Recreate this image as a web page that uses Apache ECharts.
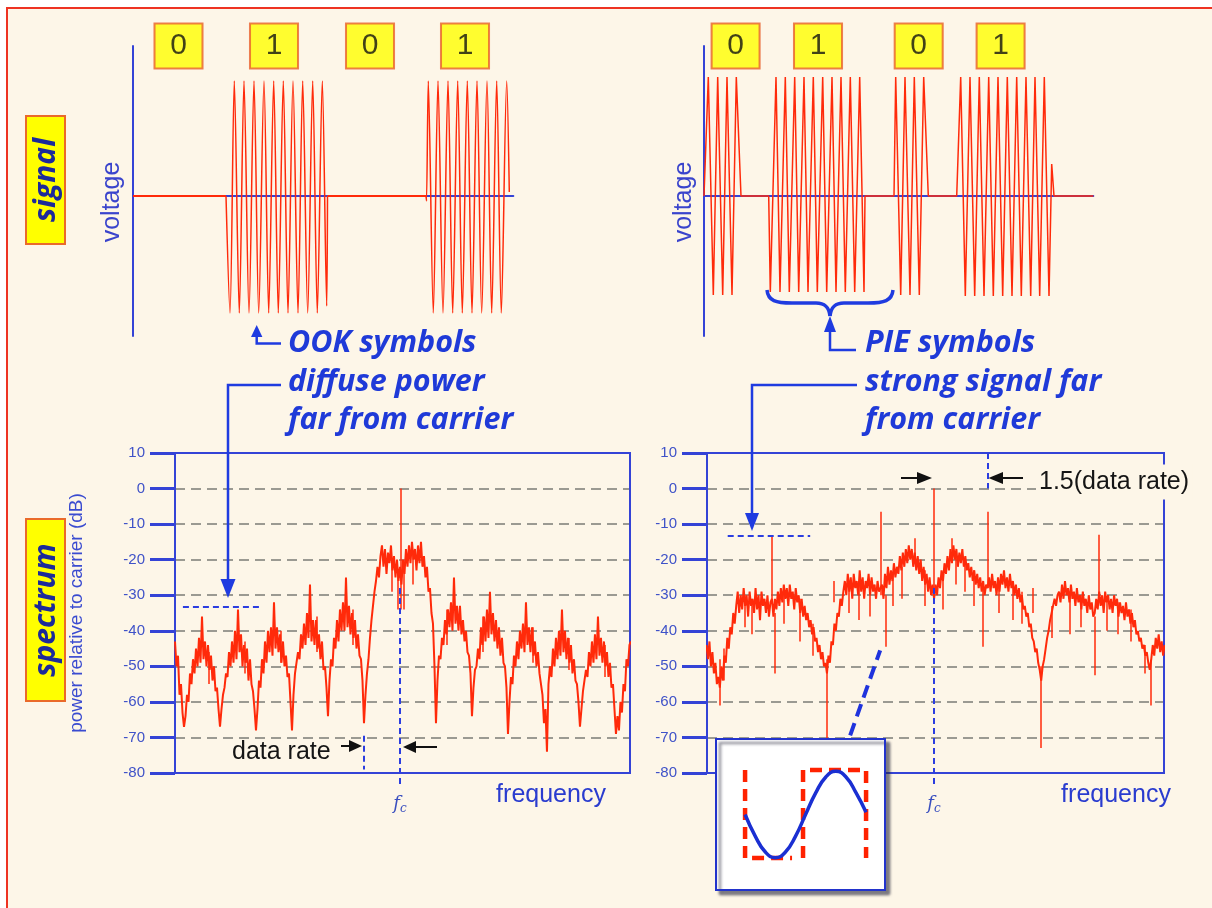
<!DOCTYPE html>
<html><head><meta charset="utf-8">
<script src="https://cdn.jsdelivr.net/npm/echarts@6/dist/echarts.min.js"></script>
<style>
html,body{margin:0;padding:0;background:#fff;overflow:hidden;}
#frame{position:absolute;left:6px;top:7px;width:1220px;height:920px;background:#fdf6e8;border-top:2px solid #ee3322;border-left:2px solid #ee3322;}
#chart{position:absolute;left:0;top:0;width:1212px;height:908px;}
</style></head><body><div id="frame"></div><div id="chart"></div>
<script>
// ---------- data ----------
const bitLabels = ['0', '1', '0', '1'];
const ookBitTimes = [45.5, 141, 237, 332];
const pieBitTimes = [31.6, 114, 214.7, 296.6];

// OOK waveform (time, voltage)
const ookBurst1 = [[93,0],[97,-1.17],[101.3,1.15],[106.3,-1.17],[111,1.15],[116,-1.17],[121,1.15],[125.7,-1.17],[131,1.15],[135.7,-1.17],[140.7,1.15],[145.3,-1.17],[150.3,1.15],[155,-1.17],[160,1.15],[165,-1.17],[169.7,1.15],[174.7,-1.17],[179.7,1.15],[184.3,-1.17],[189.3,1.15],[193.7,-1.1],[194.5,0]];
const ookBurst2 = [[293,0],[293.5,-0.05],[295.3,1.15],[300.3,-1.17],[305,1.15],[310,-1.17],[315,1.15],[319.7,-1.17],[324.7,1.15],[329.3,-1.17],[334.3,1.15],[339,-1.17],[344,1.15],[348.7,-1.17],[354,1.15],[358.7,-1.17],[363.7,1.15],[368.3,-1.17],[373.7,1.15],[376.3,0.04]];
const ookIdle = [[[0,0],[93,0]],[[194.5,0],[293,0]]];

// PIE waveform
const pieWave = [[0,0],[4.3,1.19],[9.3,-0.99],[13.7,1.19],[18.7,-0.99],[23,1.19],[28,-0.99],[32.3,1.19],[37,0],
[64.7,0],[66.3,-0.96],[72,1.19],[76,-0.96],[81.3,1.19],[85.3,-0.96],[90.7,1.19],[94.7,-0.96],[100,1.19],[104,-0.96],[109.3,1.19],[113.3,-0.96],[118.7,1.19],[122.7,-0.96],[128,1.19],[132,-0.96],[137,1.19],[141.3,-0.96],[146.3,1.19],[150.7,-0.96],[155.7,1.19],[160,-0.96],[161,0],
[190,0],[191.7,1.19],[196.7,-0.99],[201,1.19],[206,-0.99],[210.3,1.19],[215.3,-0.99],[219.7,1.19],[224.3,0],
[252.7,0],[256.7,1.19],[261.3,-1.0],[266,1.19],[270.7,-1.0],[275.3,1.19],[280,-1.0],[284.7,1.19],[289.3,-1.0],[294,1.19],[298.7,-1.0],[303.3,1.19],[308,-1.0],[312.7,1.19],[317.3,-1.0],[322,1.19],[326.7,-1.0],[331,1.19],[335.7,-1.0],[340.3,1.19],[345,-1.0],[347.7,0.32],[350,0],[389.3,0]];

// spectra: frequency offset from carrier in units of data rate, sampled every 1/24
const freqStep = 1 / 24;
const ookFreqStart = -150 / 24;
const ookPower = [
-43,-50,-47,-58,-55,-63, -67,
-64,-58,-60,-52,-55,-48,-52,-45,-50,-42,-49,-36,-48,-43,-50,-44,-51,-47,-54,-50,-57,-56,-62, -67,
-62,-58,-56,-52,-53,-46,-50,-43,-49,-40,-48,-34,-46,-41,-50,-44,-49,-45,-54,-48,-55,-57,-62, -68,
-62,-54,-56,-48,-52,-43,-49,-40,-46,-39,-47,-32,-45,-39,-46,-41,-49,-43,-50,-47,-53,-52,-60, -68,
-58,-52,-52,-46,-48,-41,-45,-38,-44,-35,-42,-27,-43,-37,-44,-37,-45,-41,-48,-43,-51,-50,-56, -64,
-54,-48,-50,-42,-45,-37,-43,-34,-40,-32,-40,-25,-39,-33,-41,-35,-42,-37,-45,-41,-47,-48,-54, -66,
-58,-52,-48,-42,-37,-33,-29,-26,-22,-25,-19,-16,-22,-17,-24,-18,-21,-16,-23,-19,-25,-20,-26,
-22,
-27,-20,-24,-17,-22,-16,-21,-15,-20,-17,-23,-16,-21,-15,-22,-19,-25,-22,-29,-28,-35,-38,-50, -66,
-54,-47,-48,-42,-44,-37,-41,-34,-39,-32,-40,-25,-38,-33,-40,-33,-41,-37,-43,-40,-46,-47,-52, -64,
-56,-51,-50,-45,-48,-39,-44,-36,-43,-34,-42,-29,-41,-35,-43,-37,-45,-39,-47,-42,-49,-50,-56, -69,
-60,-53,-55,-47,-50,-43,-48,-40,-45,-38,-46,-32,-44,-39,-46,-39,-47,-43,-50,-46,-52,-52,-58, -66,
-62,-74,-55,-50,-53,-45,-50,-42,-48,-40,-47,-34,-46,-40,-48,-42,-49,-44,-52,-48,-54,-55,-60, -67,
-62,-57,-57,-51,-53,-46,-50,-43,-49,-41,-48,-36,-47,-42,-49,-43,-50,-46,-53,-49,-56,-55,-62, -69,
-64,-68,-60,-63,-55,-57,-48,-50,-44,-43];
const ookSpikes = [[[0.03,-34],[0.03,0]], [[-0.05,-24],[-0.05,-34]], [[0.1,-22],[0.1,-34]], [[-0.22,-20],[-0.22,-29]],
 [[0.36,-18],[0.36,-27]], [[-5.3,-46],[-5.3,-55]], [[-4.3,-43],[-4.3,-52]], [[-3.3,-40],[-3.3,-49]],
 [[-2.3,-36],[-2.3,-46]], [[-1.3,-34],[-1.3,-44]], [[1.3,-34],[1.3,-44]], [[2.3,-36],[2.3,-46]], [[3.7,-39],[3.7,-49]],
 [[4.7,-42],[4.7,-51]], [[5.7,-44],[5.7,-53]]];

const pieFreqStart = -153 / 24;
const piePower = [
-44,-48,-43,-50,-46,-52,-49,-55,-53, -56,
-50,-54,-47,-49,-42,-45,-39,-41,-35,-38,-33,
-29,-35,-30,-34,-28,-33,-30,-36,-29,-33,-31,-35,-28,-34,-30,-37,-29,-33,-31,-35,-30,-36,-32,
-31,
-36,-31,-34,-29,-33,-28,-32,-27,-31,-28,-33,-27,-31,-29,-34,-28,-32,-30,-35,-31,-36,-33,-37,
-35,-39,-37,-41,-39,-43,-42,-46,-44,-48,-46,-50,-49,
-52,
-47,-49,-43,-44,-38,-40,-35,-36,-31,-33,-29,
-26,-30,-24,-29,-25,-31,-24,-28,-26,-30,-23,-29,-25,-31,-26,-28,-24,-30,-25,-29,-27,-31,-26,-29,
-28,
-27,-31,-24,-28,-22,-27,-23,-26,-21,-25,-22,
-24,-19,-23,-18,-22,-17,-21,-16,-20,-17,-22,-18,-23,-19,
-24,-20,-26,-22,-27,-24,-29,-25,-30,-27,
-31,
-27,-30,-25,-28,-23,-26,-21,-24,-19,-23,
-17,-21,-16,-20,-17,-22,-18,-21,-17,-22,-19,-23,-21,
-25,-22,-26,-23,-27,-24,-28,-25,-29,-26,-30,-27,
-28,
-25,-29,-24,-28,-26,-30,-25,-29,-24,-27,-23,-28,-25,-29,-24,-28,-26,-30,-27,-31,-28,-32,-30,-34,-33,
-36,-35,-39,-38,-42,-43,-46,-45,-49,-51,
-54,
-50,-48,-45,-42,-40,-37,-35,-33,-31,-33,-30,
-29,-32,-27,-31,-26,-30,-28,-32,-27,-31,-29,-33,-28,-32,-30,-34,-29,-33,-31,-35,-30,-34,-32,-36,
-35,
-31,-34,-29,-33,-30,-35,-29,-32,-30,-34,-31,-35,-30,-33,-31,-36,-32,-35,-33,-37,-32,-36,-34,-38,-35,-39,-37,-41,
-40,-43,-42,-45,-44,-47,-46,-49,-51,
-48,-44,-47,-42,-45,-41,-46,-43,-47,-44];
const pieSpikes = [
 [[0,-30],[0,0]], [[-1.5,-30],[-1.5,-6.5]], [[1.5,-28],[1.5,-6.5]], [[-4.55,-32],[-4.55,-13.5]], [[4.61,-31],[4.61,-13]],
 [[-6.0,-48],[-6.0,-61]], [[-4.45,-35],[-4.45,-52]], [[-3.0,-48],[-3.0,-71]], [[-1.36,-30],[-1.36,-44.5]],
 [[1.35,-27],[1.35,-44.5]], [[3.0,-50],[3.0,-73]], [[4.5,-36],[4.5,-52.5]], [[6.08,-48],[6.08,-61]],
 [[-5.1,-33],[-5.1,-41]], [[-3.75,-31],[-3.75,-43]], [[-2.1,-27],[-2.1,-37]], [[-0.9,-22],[-0.9,-31]],
 [[0.85,-20],[0.85,-29]], [[2.2,-27],[2.2,-37]], [[3.8,-30],[3.8,-41]], [[5.15,-32],[5.15,-41]],
 [[-5.9,-45],[-5.9,-54]], [[-5.3,-31],[-5.3,-39]], [[-4.2,-30],[-4.2,-38]], [[-3.4,-38],[-3.4,-47]], [[-2.4,-26],[-2.4,-35]],
 [[-1.8,-26],[-1.8,-36]], [[-1.15,-24],[-1.15,-33]], [[-0.25,-23],[-0.25,-33]], [[0.25,-24],[0.25,-34]], [[0.6,-18],[0.6,-27]],
 [[1.1,-23],[1.1,-33]], [[1.8,-26],[1.8,-35]], [[2.45,-29],[2.45,-38]], [[3.3,-33],[3.3,-42]], [[4.1,-30],[4.1,-39]],
 [[4.85,-31],[4.85,-40]], [[5.5,-34],[5.5,-43]], [[5.9,-44],[5.9,-52]],
 [[-0.55,-20],[-0.55,-14]], [[0.5,-19],[0.5,-14]], [[-2.8,-32],[-2.8,-26]], [[2.75,-35],[2.75,-28]]];

const dbTicks = [10, 0, -10, -20, -30, -40, -50, -60, -70, -80];

// annotation guide lines (in spectrum coordinates)
const ookGuides = { carrier: [[0,-28],[0,-83.4]], dataRate: [[-1,-69.5],[-1,-79]], level: [[-6.03,-33.3],[-3.81,-33.3]] };
const pieGuides = { carrier: [[0,-28],[0,-83.4]], rate15: [[1.5,10],[1.5,0]], level: [[-5.78,-13.3],[-3.47,-13.3]] };
const insetPointer = [[-2.35,-69.4],[-1.51,-45.5]];

// inset: one PIE symbol sketch
const insetSine = [[0.172,0],[0.232,-0.5],[0.292,-0.87],[0.351,-1],[0.411,-0.87],[0.471,-0.5],[0.530,0],[0.590,0.5],[0.650,0.87],[0.709,1],[0.769,0.87],[0.829,0.5],[0.888,0.05]];
const insetLowPulse = [[0.172,1.03],[0.172,-1.01],[0.45,-1.01]];
const insetHighPulse = [[0.515,-1.01],[0.515,1.03],[0.888,1.03],[0.888,-1.01]];

// ---------- styles ----------
const AXIS = '#3443d6', TXT = '#1f3ad8', RED = '#ff2a0a', LBL = '#3f52c8', CONN = '#1f3be0';
const SANS = '"Liberation Sans", Arial, sans-serif';
const ITAL = 'italic bold 30.5px "Open Sans", sans-serif';

function toXY(arr, start){ return arr.map((v,i)=>[start + i*freqStep, v]); }

const chart = echarts.init(document.getElementById('chart'), null, {renderer:'canvas'});

const hidden = {show:false};
function sigX(idx, max){ return {gridIndex:idx, type:'value', min:0, max:max,
  axisLine:{show:true, onZero:true, lineStyle:{color:AXIS, width:2}}, axisTick:hidden, axisLabel:hidden, splitLine:hidden}; }
function sigY(idx){ return {gridIndex:idx, type:'value', min:-1.4, max:1.5,
  axisLine:{show:true, onZero:false, lineStyle:{color:AXIS, width:2}}, axisTick:hidden, axisLabel:hidden, splitLine:hidden}; }
function specX(idx, min, max){ return {gridIndex:idx, type:'value', min:min, max:max,
  axisLine:hidden, axisTick:hidden, axisLabel:hidden, splitLine:hidden}; }
function specY(idx, withName){ const o = {gridIndex:idx, type:'value', min:dbTicks[dbTicks.length-1], max:dbTicks[0], interval:10,
  axisLine:{show:true, onZero:false, lineStyle:{color:AXIS, width:2}},
  axisTick:{show:true, length:25, lineStyle:{color:AXIS, width:3}},
  axisLabel:{margin:30, color:LBL, fontSize:15, fontFamily:SANS},
  splitLine:{show:true, lineStyle:{color:'#9b9a92', width:2, type:[10,6]}}};
  if (withName){ o.name='power relative to carrier (dB)'; o.nameLocation='middle'; o.nameGap=89;
    o.nameTextStyle={color:'#3a4bd0', fontSize:19, fontFamily:SANS}; }
  return o; }

function bitsSeries(idx, times){ return {type:'scatter', xAxisIndex:idx, yAxisIndex:idx, clip:false, z:5,
  symbol:'rect', symbolSize:[48,45],
  itemStyle:{color:'#ffff00', borderColor:'#e8602c', borderWidth:2},
  label:{show:true, position:'inside', formatter:'{b}', color:'#111', fontSize:30, fontFamily:SANS},
  data: times.map((t,i)=>({name:bitLabels[i], value:[t,1.5]}))}; }

function guide(idx, coords, extra){ return Object.assign({type:'lines', coordinateSystem:'cartesian2d', xAxisIndex:idx, yAxisIndex:idx,
  clip:false, z:4, lineStyle:{color:'#2b3ee0', width:2, type:[6,4], opacity:1},
  data: coords.map(c=>({coords:c}))}, extra||{}); }

function pl(points, color, w){ return {type:'polyline', z:11, shape:{points:points}, style:{stroke:color, lineWidth:w, fill:null}}; }
function pg(points, color){ return {type:'polygon', z:11, shape:{points:points}, style:{fill:color}}; }
function bz(x1,y1,cx1,cy1,cx2,cy2,x2,y2){ return {type:'bezierCurve', z:11, shape:{x1:x1,y1:y1,cpx1:cx1,cpy1:cy1,cpx2:cx2,cpy2:cy2,x2:x2,y2:y2}, style:{stroke:CONN, lineWidth:3.5, fill:null}}; }
function tx(x, y, text, font, fill, align, extra){ return {type:'text', z:11, x:x, y:y, style:Object.assign({text:text, font:font, fill:fill, align:align||'left', verticalAlign:'middle'}, extra||{})}; }
function vtx(x, y, text, font, fill){ return {type:'text', z:11, x:x, y:y, rotation:Math.PI/2, style:{text:text, font:font, fill:fill, align:'center', verticalAlign:'middle'}}; }
const fcRich = {f:{fontFamily:'"DejaVu Serif", serif', fontStyle:'italic', fontSize:18, color:'#3a4fbf'}, c:{fontFamily:'"DejaVu Serif", serif', fontStyle:'italic', fontSize:12, color:'#3a4fbf', padding:[10,0,0,0]}};

const option = {
  animation:false,
  backgroundColor:'transparent',
  grid:[
    {left:133, top:46, width:380.3, height:290},
    {left:704, top:46, width:389.3, height:290},
    {left:175, top:453, width:455, height:320, show:true, borderColor:AXIS, borderWidth:2, backgroundColor:'transparent', z:1},
    {left:707, top:453, width:457, height:320, show:true, borderColor:AXIS, borderWidth:2, backgroundColor:'transparent', z:1},
    {left:716, top:739, width:169, height:151, show:true, borderColor:'#2233cc', borderWidth:2, backgroundColor:'#ffffff',
      shadowColor:'rgba(40,40,60,0.6)', shadowBlur:3, shadowOffsetX:4, shadowOffsetY:4, z:5}
  ],
  xAxis:[ sigX(0,380.3), sigX(1,389.3), specX(2,-6.25,6.39), specX(3,-6.36,6.44),
    {gridIndex:4, type:'value', min:0, max:1, show:false} ],
  yAxis:[ sigY(0), sigY(1), specY(2,true), specY(3,false),
    {gridIndex:4, type:'value', min:-1.75, max:1.75, show:false} ],
  series:[
    {type:'line', xAxisIndex:0, yAxisIndex:0, showSymbol:false, symbol:'none', smooth:0.3,
      lineStyle:{color:RED, width:1.5}, data: ookBurst1.concat([[200,'-']], ookBurst2)},
    {type:'lines', coordinateSystem:'cartesian2d', xAxisIndex:0, yAxisIndex:0, lineStyle:{color:RED, width:2, opacity:1},
      data: ookIdle.map(c=>({coords:c}))},
    bitsSeries(0, ookBitTimes),
    {type:'line', xAxisIndex:1, yAxisIndex:1, showSymbol:false, symbol:'none',
      lineStyle:{color:RED, width:1.5}, data: pieWave},
    bitsSeries(1, pieBitTimes),
    {type:'line', xAxisIndex:2, yAxisIndex:2, showSymbol:false, symbol:'none', z:3,
      lineStyle:{color:RED, width:2}, data: toXY(ookPower, ookFreqStart)},
    {type:'lines', coordinateSystem:'cartesian2d', xAxisIndex:2, yAxisIndex:2, z:3, lineStyle:{color:RED, width:1.5, opacity:1},
      data: ookSpikes.map(c=>({coords:c}))},
    guide(2, [ookGuides.carrier, ookGuides.dataRate, ookGuides.level]),
    {type:'line', xAxisIndex:3, yAxisIndex:3, showSymbol:false, symbol:'none', z:3,
      lineStyle:{color:RED, width:2}, data: toXY(piePower, pieFreqStart)},
    {type:'lines', coordinateSystem:'cartesian2d', xAxisIndex:3, yAxisIndex:3, z:3, lineStyle:{color:RED, width:1.5, opacity:1},
      data: pieSpikes.map(c=>({coords:c}))},
    guide(3, [pieGuides.carrier, pieGuides.rate15, pieGuides.level]),
    guide(3, [insetPointer], {z:7, lineStyle:{color:'#1f33dd', width:4, type:[13,7], opacity:1}}),
    {type:'lines', coordinateSystem:'cartesian2d', xAxisIndex:4, yAxisIndex:4, polyline:true, z:7,
      lineStyle:{color:'#ff2200', width:4.5, type:[12,7], opacity:1},
      data:[{coords:insetLowPulse},{coords:insetHighPulse}]},
    {type:'line', xAxisIndex:4, yAxisIndex:4, showSymbol:false, symbol:'none', smooth:true, z:8,
      lineStyle:{color:'#1a2fd2', width:3.5}, data: insetSine}
  ],
  graphic:{elements:[
    {type:'rect', z:10, shape:{x:26,y:116,width:39,height:128}, style:{fill:'#ffff00', stroke:'#ea6a2a', lineWidth:2}},
    vtx(46, 180, 'signal', 'italic bold 30px "Open Sans", sans-serif', '#1c2a9a'),
    {type:'rect', z:10, shape:{x:26,y:519,width:39,height:182}, style:{fill:'#ffff00', stroke:'#ea6a2a', lineWidth:2}},
    vtx(46, 610, 'spectrum', 'italic bold 30px "Open Sans", sans-serif', '#1c2a9a'),
    vtx(112, 202, 'voltage', '25px '+SANS, '#3a44cc'),
    vtx(684, 202, 'voltage', '25px '+SANS, '#3a44cc'),
    tx(288, 343, 'OOK symbols', ITAL, TXT),
    tx(288, 382, 'diffuse power', ITAL, TXT),
    tx(288, 420, 'far from carrier', ITAL, TXT),
    tx(865, 343, 'PIE symbols', ITAL, TXT),
    tx(865, 382, 'strong signal far', ITAL, TXT),
    tx(865, 420, 'from carrier', ITAL, TXT),
    // connectors
    pl([[256.7,334],[256.7,343.5],[281,343.5]], CONN, 2.5),
    pg([[256.7,325],[251,337],[262.4,337]], CONN),
    pl([[281,385],[228,385],[228,582]], CONN, 2.5),
    pg([[228,598],[220.5,579],[235.5,579]], CONN),
    bz(767,290, 768,301, 776,303, 792,303),
    pl([[792,303],[816,303]], CONN, 3.5),
    bz(816,303, 825,303, 829,307, 830,316),
    bz(830,316, 831,307, 835,303, 844,303),
    pl([[844,303],[868,303]], CONN, 3.5),
    bz(868,303, 884,303, 892,301, 893,290),
    pl([[830,330],[830,350],[856,350]], CONN, 2.5),
    pg([[830,316],[824,332],[836,332]], CONN),
    pl([[857,385],[752,385],[752,516]], CONN, 2.5),
    pg([[752,531],[745,513],[759,513]], CONN),
    // black dimension arrows
    pl([[341,746],[352,746]], '#111', 2),
    pg([[362,746],[349,740],[349,752]], '#111'),
    pl([[414,747],[437,747]], '#111', 2),
    pg([[403,747],[416,741],[416,753]], '#111'),
    pl([[901,478],[920,478]], '#111', 2),
    pg([[932,478],[917,472],[917,484]], '#111'),
    pl([[1001,478],[1023,478]], '#111', 2),
    pg([[988.5,478],[1003,472],[1003,484]], '#111'),
    tx(232, 752, 'data rate', '25px '+SANS, '#151515'),
    tx(1036, 482, '1.5(data rate)', '25px '+SANS, '#151515', 'left', {backgroundColor:'#fdf6e8', padding:[5,3]}),
    tx(551, 795, 'frequency', '25px '+SANS, '#2a3ccf', 'center'),
    tx(1116, 795, 'frequency', '25px '+SANS, '#2a3ccf', 'center'),
    tx(400, 804, '{f|f}{c|c}', '18px serif', '#3a4fbf', 'center', {rich:fcRich}),
    tx(934, 804, '{f|f}{c|c}', '18px serif', '#3a4fbf', 'center', {rich:fcRich})
  ]}
};
chart.setOption(option);
</script></body></html>
